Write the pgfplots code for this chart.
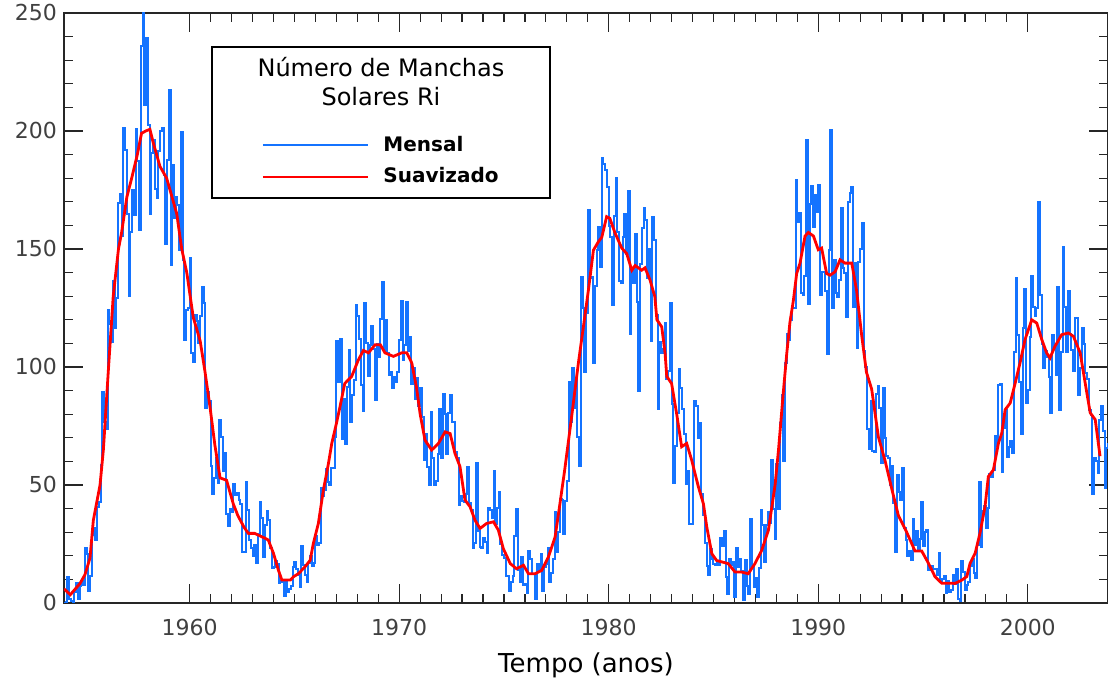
\documentclass[border=0pt]{standalone}
\usepackage{fontspec}
\setmainfont{DejaVu Sans}
\usepackage{pgfplots}
\pgfplotsset{compat=1.18}
\definecolor{mensal}{RGB}{20,115,255}
\definecolor{suav}{RGB}{255,0,0}

\begin{document}
\begin{tikzpicture}
\begin{axis}[
  scale only axis, width=522pt, height=295pt,
  xmin=1954, xmax=2003.83, ymin=0, ymax=250,
  xtick={1960,1970,...,2000}, ytick={0,50,...,250},
  minor x tick num=9, minor y tick num=4,
  major tick length=9.5pt, minor tick length=4.7pt,
  tick align=inside,
  axis line style={black!85, line width=0.6pt},
  every tick/.style={black!85, line width=0.6pt},
  ticklabel style={font=\fontsize{11}{13}\selectfont, text=black!75},
  /pgf/number format/assume math mode=true,
  /pgf/number format/1000 sep={},
  xticklabel style={yshift=-4.5pt},
  xlabel={Tempo (anos)},
  xlabel style={font=\fontsize{13}{15}\selectfont, at={(axis description cs:0.5,0)}, anchor=base, yshift=-35pt},
]

% mensal: um valor por mes, jan 1954 .. dez 2003
\addplot[const plot, mensal, line width=1.0pt] table[x expr=1954+\coordindex/12, y=v, row sep=\\] {
v\\
0.2\\ 0.5\\ 10.9\\ 1.8\\ 0.8\\ 0.2\\ 4.8\\ 8.4\\ 1.5\\ 7.0\\ 9.2\\ 7.6\\
23.1\\ 20.8\\ 4.9\\ 11.3\\ 28.9\\ 31.7\\ 26.7\\ 40.7\\ 42.7\\ 58.5\\ 89.2\\ 76.9\\
73.6\\ 124.0\\ 118.4\\ 110.7\\ 136.6\\ 116.6\\ 129.1\\ 169.6\\ 173.2\\ 155.3\\ 201.3\\ 192.1\\
165.0\\ 130.2\\ 157.4\\ 175.2\\ 164.6\\ 200.7\\ 187.2\\ 158.0\\ 235.8\\ 253.8\\ 210.9\\ 239.4\\
202.5\\ 164.9\\ 190.7\\ 196.0\\ 175.3\\ 171.5\\ 191.4\\ 200.2\\ 201.2\\ 181.5\\ 152.3\\ 187.6\\
217.4\\ 143.1\\ 185.7\\ 163.3\\ 172.0\\ 168.7\\ 149.6\\ 199.6\\ 145.2\\ 111.4\\ 124.0\\ 125.0\\
146.3\\ 106.0\\ 102.2\\ 122.0\\ 119.6\\ 110.2\\ 121.7\\ 134.1\\ 127.2\\ 82.8\\ 89.6\\ 85.6\\
57.9\\ 46.1\\ 53.0\\ 61.4\\ 51.0\\ 77.4\\ 70.2\\ 55.8\\ 63.6\\ 37.7\\ 32.6\\ 39.9\\
38.7\\ 50.3\\ 45.6\\ 46.4\\ 43.7\\ 42.0\\ 21.8\\ 21.8\\ 51.3\\ 39.5\\ 26.9\\ 23.2\\
19.8\\ 24.4\\ 17.1\\ 29.3\\ 43.0\\ 35.9\\ 19.6\\ 33.2\\ 38.8\\ 35.3\\ 23.4\\ 14.9\\
15.3\\ 17.7\\ 16.5\\ 8.6\\ 9.5\\ 9.1\\ 3.1\\ 9.3\\ 4.7\\ 6.1\\ 7.4\\ 15.1\\
17.5\\ 14.2\\ 11.7\\ 6.8\\ 24.1\\ 15.9\\ 11.9\\ 8.9\\ 16.8\\ 20.1\\ 15.8\\ 17.0\\
28.2\\ 24.4\\ 25.3\\ 48.7\\ 45.3\\ 47.7\\ 56.7\\ 51.2\\ 50.2\\ 57.2\\ 57.2\\ 70.4\\
110.9\\ 93.6\\ 111.8\\ 69.5\\ 86.5\\ 67.3\\ 91.5\\ 107.2\\ 76.8\\ 88.2\\ 94.3\\ 126.4\\
121.8\\ 111.9\\ 92.2\\ 81.2\\ 127.2\\ 110.3\\ 96.1\\ 109.3\\ 117.2\\ 107.7\\ 86.0\\ 109.8\\
104.4\\ 120.5\\ 135.8\\ 106.8\\ 120.0\\ 106.0\\ 96.8\\ 98.0\\ 91.3\\ 95.7\\ 93.5\\ 97.9\\
111.5\\ 127.8\\ 102.9\\ 109.5\\ 127.5\\ 106.8\\ 112.5\\ 93.0\\ 99.5\\ 86.6\\ 95.2\\ 83.5\\
91.3\\ 79.0\\ 60.7\\ 71.8\\ 57.5\\ 49.8\\ 81.0\\ 61.4\\ 50.2\\ 51.7\\ 63.2\\ 82.2\\
61.5\\ 88.4\\ 80.1\\ 63.2\\ 80.5\\ 88.0\\ 76.5\\ 76.8\\ 64.0\\ 61.3\\ 41.6\\ 45.3\\
43.4\\ 42.9\\ 46.0\\ 57.7\\ 42.4\\ 39.5\\ 23.1\\ 25.6\\ 59.3\\ 30.7\\ 23.9\\ 23.3\\
27.6\\ 26.0\\ 21.3\\ 40.3\\ 39.5\\ 36.0\\ 55.8\\ 33.6\\ 40.2\\ 47.1\\ 25.0\\ 20.5\\
18.9\\ 11.5\\ 11.5\\ 5.1\\ 9.0\\ 11.4\\ 28.2\\ 39.7\\ 13.9\\ 9.1\\ 19.4\\ 7.8\\
8.1\\ 4.3\\ 21.9\\ 18.8\\ 12.4\\ 12.2\\ 1.9\\ 16.4\\ 13.5\\ 20.6\\ 5.2\\ 15.3\\
16.4\\ 23.1\\ 8.7\\ 12.9\\ 18.6\\ 38.5\\ 21.4\\ 30.1\\ 44.0\\ 43.8\\ 29.1\\ 43.2\\
51.9\\ 93.6\\ 76.5\\ 99.7\\ 82.7\\ 95.1\\ 70.4\\ 58.1\\ 138.2\\ 125.1\\ 97.9\\ 122.7\\
166.6\\ 137.5\\ 138.0\\ 101.5\\ 134.4\\ 149.5\\ 159.4\\ 142.2\\ 188.4\\ 186.2\\ 183.3\\ 176.3\\
159.6\\ 155.0\\ 126.2\\ 164.1\\ 179.9\\ 157.3\\ 136.3\\ 135.4\\ 155.0\\ 164.7\\ 147.9\\ 174.4\\
114.0\\ 141.3\\ 135.5\\ 156.4\\ 127.5\\ 90.0\\ 143.8\\ 158.7\\ 167.3\\ 162.4\\ 137.5\\ 150.1\\
111.2\\ 163.6\\ 153.8\\ 122.0\\ 82.2\\ 110.4\\ 106.1\\ 107.6\\ 118.8\\ 94.7\\ 98.1\\ 127.0\\
84.3\\ 51.0\\ 66.5\\ 80.7\\ 99.2\\ 91.1\\ 82.2\\ 71.8\\ 50.3\\ 55.8\\ 33.3\\ 33.4\\
57.0\\ 85.4\\ 83.5\\ 69.7\\ 76.4\\ 46.1\\ 37.4\\ 25.5\\ 15.7\\ 12.0\\ 22.8\\ 18.7\\
16.5\\ 15.9\\ 17.2\\ 16.2\\ 27.5\\ 24.2\\ 30.7\\ 11.1\\ 3.9\\ 18.6\\ 16.2\\ 17.3\\
2.5\\ 23.2\\ 15.1\\ 18.5\\ 13.7\\ 1.1\\ 18.1\\ 7.4\\ 3.8\\ 35.4\\ 15.2\\ 6.8\\
10.4\\ 2.4\\ 14.7\\ 39.6\\ 33.0\\ 17.4\\ 33.0\\ 38.7\\ 33.9\\ 60.6\\ 39.9\\ 27.1\\
59.0\\ 40.0\\ 76.2\\ 88.0\\ 60.1\\ 101.8\\ 113.8\\ 111.6\\ 120.1\\ 125.1\\ 125.1\\ 179.2\\
161.3\\ 165.1\\ 131.4\\ 130.6\\ 138.5\\ 196.2\\ 126.9\\ 168.9\\ 176.7\\ 159.4\\ 173.0\\ 165.5\\
177.3\\ 130.5\\ 140.3\\ 140.3\\ 132.2\\ 105.4\\ 149.4\\ 200.3\\ 125.2\\ 145.5\\ 131.4\\ 129.7\\
136.9\\ 167.5\\ 141.9\\ 140.0\\ 121.3\\ 169.7\\ 173.7\\ 176.3\\ 125.3\\ 144.1\\ 108.2\\ 144.4\\
150.0\\ 161.1\\ 106.7\\ 99.8\\ 73.8\\ 65.2\\ 85.7\\ 64.5\\ 63.9\\ 88.7\\ 91.8\\ 82.6\\
59.3\\ 91.0\\ 69.8\\ 62.2\\ 61.3\\ 49.8\\ 57.9\\ 42.3\\ 21.4\\ 54.3\\ 47.0\\ 43.6\\
57.0\\ 31.8\\ 26.5\\ 19.7\\ 21.9\\ 18.4\\ 35.8\\ 24.6\\ 30.7\\ 22.4\\ 27.3\\ 42.7\\
24.2\\ 29.9\\ 31.1\\ 14.0\\ 14.5\\ 15.6\\ 14.5\\ 14.3\\ 11.8\\ 21.1\\ 9.0\\ 10.0\\
11.5\\ 4.4\\ 9.2\\ 4.8\\ 5.5\\ 11.8\\ 8.2\\ 14.4\\ 1.6\\ 0.9\\ 17.9\\ 13.3\\
5.7\\ 7.6\\ 8.7\\ 15.5\\ 18.5\\ 12.7\\ 10.4\\ 24.4\\ 51.3\\ 23.8\\ 39.0\\ 41.2\\
31.9\\ 40.3\\ 54.8\\ 53.4\\ 56.3\\ 70.7\\ 66.6\\ 92.2\\ 92.9\\ 55.5\\ 74.0\\ 81.9\\
62.0\\ 66.3\\ 68.8\\ 63.7\\ 106.4\\ 137.7\\ 113.5\\ 93.7\\ 71.5\\ 116.7\\ 133.2\\ 84.6\\
90.1\\ 112.9\\ 138.5\\ 125.5\\ 121.6\\ 124.9\\ 170.1\\ 130.5\\ 109.7\\ 99.4\\ 106.8\\ 104.4\\
95.6\\ 80.6\\ 113.5\\ 107.7\\ 96.6\\ 134.0\\ 81.8\\ 106.4\\ 150.7\\ 125.5\\ 106.5\\ 132.2\\
114.1\\ 107.4\\ 98.4\\ 120.7\\ 120.8\\ 88.3\\ 99.6\\ 116.4\\ 109.6\\ 97.5\\ 95.0\\ 81.6\\
79.5\\ 46.2\\ 61.5\\ 60.0\\ 55.2\\ 77.4\\ 83.3\\ 72.7\\ 48.7\\ 65.5\\ 67.3\\ 46.5\\
};

% suavizado
\addplot[suav, line width=1.4pt] coordinates {
(1954.00,6.0) (1954.30,3.5) (1954.76,8.2) (1955.00,12) (1955.24,19) (1955.40,35)
(1955.72,50) (1955.88,65) (1956.12,99) (1956.35,130) (1956.60,150) (1956.75,157)
(1957.00,172) (1957.23,180) (1957.50,190) (1957.70,199) (1957.90,200) (1958.10,200.7)
(1958.26,195) (1958.58,185) (1958.90,180) (1959.06,175) (1959.38,165) (1959.62,150)
(1959.86,140) (1960.17,121) (1960.50,111) (1960.73,98) (1960.97,83) (1961.20,67)
(1961.45,53) (1961.76,52) (1962.08,42) (1962.30,37) (1962.60,32) (1962.80,29.5)
(1963.10,29.5) (1963.60,27.4) (1963.75,26.7) (1964.00,21) (1964.23,14) (1964.40,9.7)
(1964.80,9.7) (1964.95,11.1) (1965.20,12.5) (1965.50,15.3) (1965.75,18.1) (1965.90,25.2)
(1966.14,33.7) (1966.38,47.8) (1966.62,59) (1966.78,67.6) (1967.00,76) (1967.17,83)
(1967.40,93) (1967.73,96) (1968.05,103) (1968.29,107) (1968.53,106) (1968.85,109.4)
(1969.10,109.4) (1969.32,106) (1969.72,104.5) (1970.12,106) (1970.36,106) (1970.60,101.7)
(1970.83,91) (1971.00,80) (1971.23,69) (1971.55,64.8) (1971.87,67.6) (1972.19,72.5)
(1972.43,71.8) (1972.66,63.4) (1972.90,57.8) (1973.14,43.6) (1973.38,40.8) (1973.62,35)
(1973.86,31.6) (1974.17,33.7) (1974.50,34.4) (1974.73,30.9) (1974.97,23) (1975.30,16.7)
(1975.60,14.5) (1975.93,16) (1976.17,12.4) (1976.48,12.4) (1976.80,13.8) (1977.12,19.5)
(1977.44,28) (1977.67,42) (1977.90,56.5) (1978.23,79) (1978.55,101.6) (1978.79,117)
(1979.03,132.6) (1979.27,149.5) (1979.50,153) (1979.67,155) (1979.90,163.7) (1980.05,163)
(1980.30,156.8) (1980.62,150.4) (1980.86,148) (1981.10,141) (1981.26,143) (1981.57,141)
(1981.73,142) (1981.97,136.9) (1982.20,129.8) (1982.30,120) (1982.53,117) (1982.69,105.8)
(1982.77,96) (1983.00,93) (1983.24,80.3) (1983.48,66.2) (1983.72,67.6) (1983.96,60.5)
(1984.28,49.2) (1984.52,42) (1984.68,32.2) (1984.92,20.9) (1985.15,18) (1985.70,16.7)
(1986.03,13.1) (1986.35,13.1) (1986.66,12.4) (1986.98,16.7) (1987.30,22.3) (1987.62,30.8)
(1987.94,50) (1988.10,64.6) (1988.33,89) (1988.50,106) (1988.65,119) (1988.81,128)
(1988.97,139.6) (1989.13,144) (1989.37,155.5) (1989.53,157) (1989.77,155.5) (1990.00,149.7)
(1990.16,150.4) (1990.40,139.6) (1990.56,138.9) (1990.80,140.3) (1991.04,145.4) (1991.28,144)
(1991.60,144) (1991.83,132.4) (1992.07,113.6) (1992.30,97.8) (1992.55,90.6) (1992.87,70.4)
(1993.19,60.3) (1993.50,48.7) (1993.82,37.2) (1994.22,30) (1994.62,22) (1994.94,22)
(1995.25,17) (1995.57,11.2) (1995.89,8.4) (1996.21,8.4) (1996.53,8.3) (1996.85,9.7)
(1997.09,11.2) (1997.25,16.9) (1997.49,21.1) (1997.72,29.6) (1997.96,40.9) (1998.12,53.6)
(1998.36,56.4) (1998.60,67.7) (1998.76,72) (1998.92,81.9) (1999.16,84.7) (1999.40,93.2)
(1999.63,101.7) (1999.87,111.6) (2000.19,120) (2000.43,118.6) (2000.67,111.6) (2000.90,106)
(2001.06,103.8) (2001.30,108.8) (2001.62,113.7) (2001.94,114.4) (2002.18,113) (2002.50,106)
(2002.66,97.5) (2002.82,89) (2002.98,80.6) (2003.22,77.7) (2003.45,62.2)
};

% legenda
\draw[black, line width=0.7pt, fill=white] (rel axis cs:0.1418,0.6864) rectangle (rel axis cs:0.4655,0.9424);
\node[anchor=base, inner sep=0pt, font=\fontsize{12}{14}\selectfont] at (rel axis cs:0.3036,0.892) {Número de Manchas};
\node[anchor=base, inner sep=0pt, font=\fontsize{12}{14}\selectfont] at (rel axis cs:0.3036,0.8429) {Solares Ri};
\draw[mensal, line width=1.3pt] (rel axis cs:0.1906,0.7763) -- (rel axis cs:0.2912,0.7763);
\draw[suav, line width=1.3pt] (rel axis cs:0.1906,0.722) -- (rel axis cs:0.2912,0.722);
\node[anchor=base west, inner sep=0pt, font=\bfseries\fontsize{10}{12}\selectfont] at (rel axis cs:0.3056,0.7649) {Mensal};
\node[anchor=base west, inner sep=0pt, font=\bfseries\fontsize{10}{12}\selectfont] at (rel axis cs:0.3056,0.7119) {Suavizado};
\end{axis}
\pgfresetboundingbox
\path[use as bounding box] ([xshift=-32pt,yshift=-39.5pt]current axis.south west) rectangle ([yshift=6.5pt]current axis.north east);
\end{tikzpicture}
\end{document}
